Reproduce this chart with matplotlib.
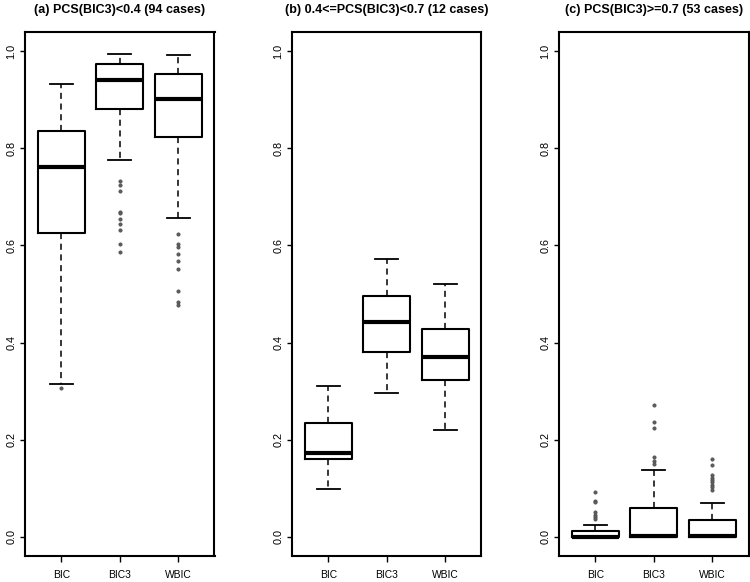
import matplotlib
matplotlib.use("Agg")
import matplotlib.pyplot as plt

plt.rcParams['font.family'] = ['Liberation Sans', 'DejaVu Sans']

groups = ["BIC", "BIC3", "WBIC"]
titles = ["(a) PCS(BIC3)<0.4 (94 cases)",
          "(b) 0.4<=PCS(BIC3)<0.7 (12 cases)",
          "(c) PCS(BIC3)>=0.7 (53 cases)"]

# Panel (a)
a_med = [0.761, 0.941, 0.902]
a_q1 = [0.625, 0.881, 0.823]
a_q3 = [0.835, 0.974, 0.953]
a_lo = [0.315, 0.776, 0.656]
a_hi = [0.933, 0.994, 0.992]
a_fliers = [[0.306],
            [0.733, 0.725, 0.713, 0.670, 0.667, 0.654, 0.644, 0.631, 0.603, 0.586],
            [0.623, 0.604, 0.597, 0.582, 0.568, 0.551, 0.507, 0.484, 0.477]]

# Panel (b)
b_med = [0.172, 0.442, 0.370]
b_q1 = [0.160, 0.381, 0.322]
b_q3 = [0.235, 0.495, 0.427]
b_lo = [0.099, 0.295, 0.219]
b_hi = [0.311, 0.573, 0.521]
b_fliers = [[], [], []]

# Panel (c)
c_med = [0.0, 0.002, 0.002]
c_q1 = [0.0, 0.0, 0.0]
c_q3 = [0.012, 0.058, 0.034]
c_lo = [0.0, 0.0, 0.0]
c_hi = [0.024, 0.138, 0.069]
c_fliers = [[0.092, 0.073, 0.072, 0.051, 0.044, 0.040, 0.036],
            [0.272, 0.237, 0.224, 0.164, 0.155, 0.150],
            [0.160, 0.147, 0.126, 0.121, 0.116, 0.112, 0.107, 0.102, 0.097]]

panels = [(a_med, a_q1, a_q3, a_lo, a_hi, a_fliers),
          (b_med, b_q1, b_q3, b_lo, b_hi, b_fliers),
          (c_med, c_q1, c_q3, c_lo, c_hi, c_fliers)]

yticks = [0.0, 0.2, 0.4, 0.6, 0.8, 1.0]
ytick_labels = ["0.0", "0.2", "0.4", "0.6", "0.8", "1.0"]

fig = plt.figure(figsize=(7.5, 5.82), dpi=100)
lefts = [25 / 750, 292 / 750, 559 / 750]
width = 189.5 / 750
bottom = 26 / 582
height = 524 / 582

for i, (med, q1, q3, lo, hi, fl) in enumerate(panels):
    ax = fig.add_axes([lefts[i], bottom, width, height])
    stats = []
    for j, g in enumerate(groups):
        stats.append(dict(med=med[j], q1=q1[j], q3=q3[j], whislo=lo[j],
                          whishi=hi[j], fliers=fl[j], label=g))
    ax.bxp(stats, positions=[1, 2, 3], widths=0.8, capwidths=0.4,
           boxprops=dict(color='black', linewidth=1.5),
           medianprops=dict(color='black', linewidth=3.0, solid_capstyle='butt'),
           whiskerprops=dict(color='black', linewidth=1.1, linestyle=(0, (4, 3))),
           capprops=dict(color='black', linewidth=1.3),
           flierprops=dict(marker='o', markersize=2.3, markerfacecolor='#606060',
                           markeredgecolor='#505050', markeredgewidth=0.6,
                           linestyle='none'))
    ax.set_xlim(0.38, 3.62)
    ax.set_ylim(-0.04, 1.04)
    ax.set_yticks(yticks)
    ax.set_yticklabels(ytick_labels, rotation=90, va='center', fontsize=7.8)
    ax.set_xticks([1, 2, 3])
    ax.set_xticklabels(groups, fontsize=7.4)
    ax.tick_params(axis='y', length=3.6, width=1, pad=2.5)
    ax.tick_params(axis='x', length=4.3, width=1, pad=6)
    for s in ax.spines.values():
        s.set_linewidth(1.5)
    ax.set_title(titles[i], fontsize=9, fontweight='bold', pad=14)

fig.savefig("out.png", dpi=100, facecolor='white')
